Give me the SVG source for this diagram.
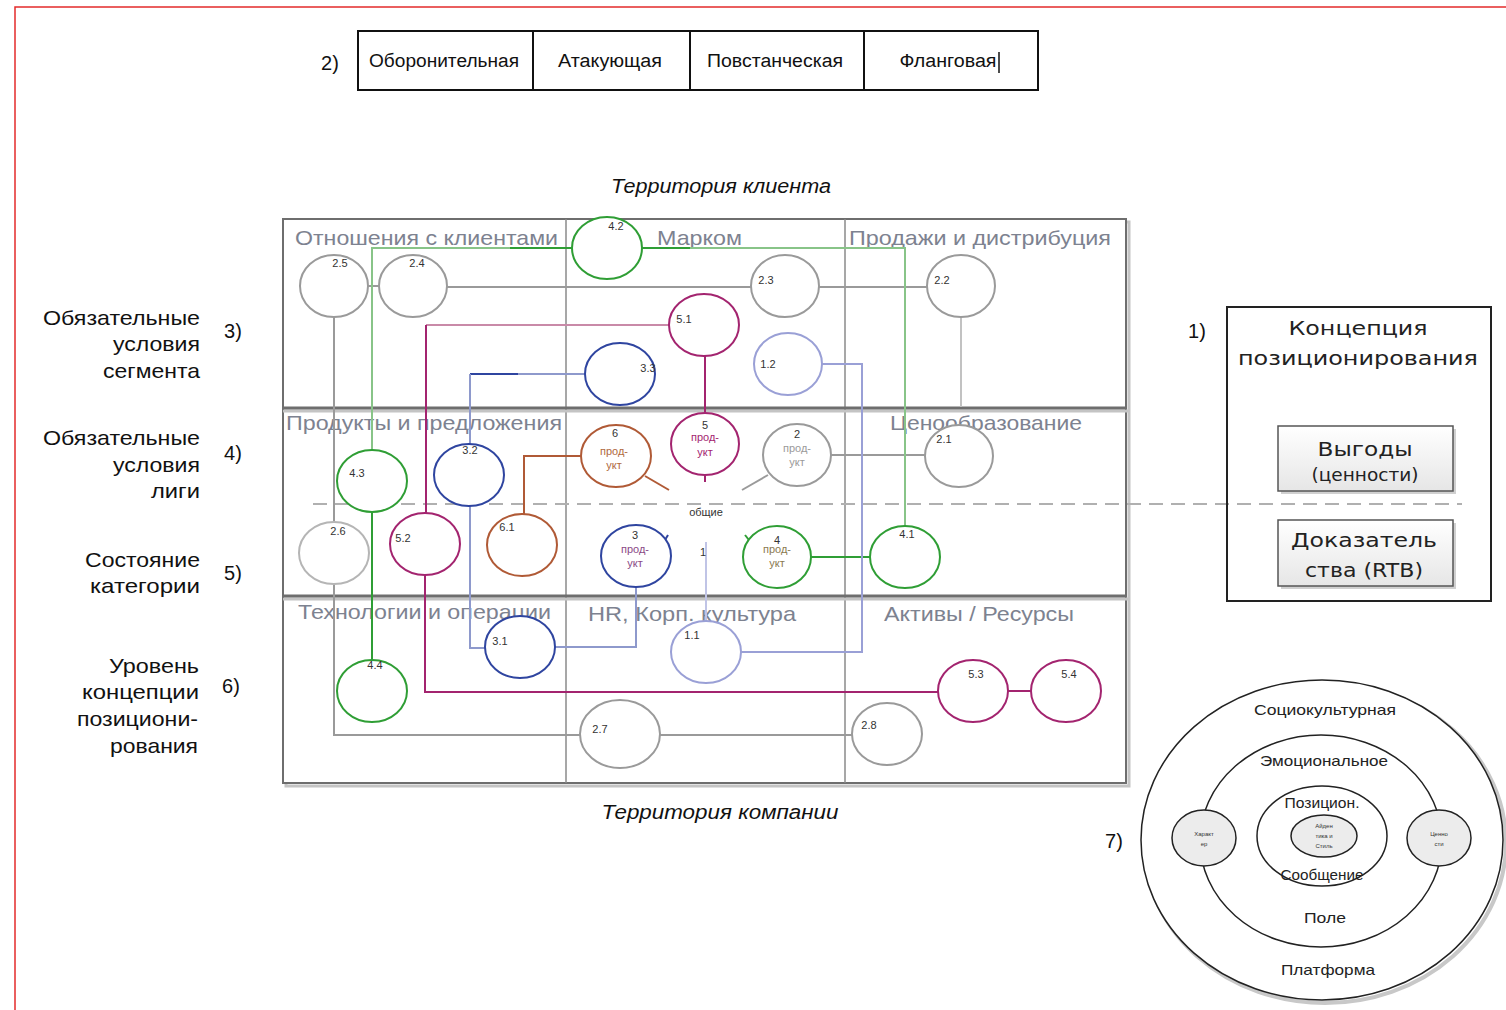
<svg xmlns="http://www.w3.org/2000/svg" width="1506" height="1010" viewBox="0 0 1506 1010">
<defs>
<style>
text{font-family:"Liberation Sans",Arial,sans-serif}
.tt{font-size:18px;fill:#111;text-anchor:middle}
.ter{font-size:20px;font-style:italic;fill:#111;text-anchor:middle}
.cell{font-size:21px;fill:#7d8290}
.lab{font-size:21px;fill:#111;text-anchor:end}
.num{font-size:20px;fill:#111}
.n{font-size:11px;fill:#333;text-anchor:middle}
.pn{font-size:11px;fill:#333;text-anchor:middle}
.pt{font-size:11px;text-anchor:middle}
.cb{font-family:"DejaVu Sans",Verdana,sans-serif;fill:#222;text-anchor:middle}
.ring{font-size:15px;fill:#222;text-anchor:middle}
.tiny{font-size:6px;fill:#333;text-anchor:middle}
.c{fill:#fff;stroke-width:2}
.gray{stroke:#9a9a9a}
.green{stroke:#2f9e35}
.mag{stroke:#a3246f}
.blue{stroke:#2f45a0}
.lblue{stroke:#9aa0d6}
.brown{stroke:#b05a36}
.ln{fill:none;stroke-width:2}
</style>
<linearGradient id="bx" x1="0" y1="0" x2="0" y2="1">
<stop offset="0" stop-color="#ffffff"/>
<stop offset="1" stop-color="#e6e6e6"/>
</linearGradient>
</defs>
<rect x="0" y="0" width="1506" height="1010" fill="#fff"/>
<!-- red frame -->
<path d="M15 1010 V7 H1506" fill="none" stroke="#e32b2b" stroke-width="1.5"/>

<!-- top table -->
<g id="strategy-table">
<text class="num" x="330" y="70" text-anchor="middle">2)</text>
<rect x="358" y="31" width="680" height="59" fill="#fff" stroke="#111" stroke-width="2"/>
<line x1="533" y1="31" x2="533" y2="90" stroke="#111" stroke-width="2"/>
<line x1="690" y1="31" x2="690" y2="90" stroke="#111" stroke-width="2"/>
<line x1="864" y1="31" x2="864" y2="90" stroke="#111" stroke-width="2"/>
<text class="tt" x="444" y="67" textLength="150" lengthAdjust="spacingAndGlyphs">Оборонительная</text>
<text class="tt" x="610" y="67" textLength="104" lengthAdjust="spacingAndGlyphs">Атакующая</text>
<text class="tt" x="775" y="67" textLength="136" lengthAdjust="spacingAndGlyphs">Повстанческая</text>
<text class="tt" x="948" y="67" textLength="97" lengthAdjust="spacingAndGlyphs">Фланговая</text>
<line x1="999" y1="52" x2="999" y2="73" stroke="#111" stroke-width="1.5"/>
</g>

<text class="ter" x="721" y="193" textLength="220" lengthAdjust="spacingAndGlyphs">Территория клиента</text>
<text class="ter" x="720" y="819" textLength="237" lengthAdjust="spacingAndGlyphs">Территория компании</text>

<!-- left labels -->
<g id="left-labels">
<text class="lab" x="200" y="325" textLength="157" lengthAdjust="spacingAndGlyphs">Обязательные</text>
<text class="lab" x="200" y="351" textLength="87" lengthAdjust="spacingAndGlyphs">условия</text>
<text class="lab" x="200" y="378" textLength="97" lengthAdjust="spacingAndGlyphs">сегмента</text>
<text class="num" x="233" y="338" text-anchor="middle">3)</text>
<text class="lab" x="200" y="445" textLength="157" lengthAdjust="spacingAndGlyphs">Обязательные</text>
<text class="lab" x="200" y="472" textLength="87" lengthAdjust="spacingAndGlyphs">условия</text>
<text class="lab" x="200" y="498" textLength="49" lengthAdjust="spacingAndGlyphs">лиги</text>
<text class="num" x="233" y="460" text-anchor="middle">4)</text>
<text class="lab" x="200" y="567" textLength="115" lengthAdjust="spacingAndGlyphs">Состояние</text>
<text class="lab" x="200" y="593" textLength="110" lengthAdjust="spacingAndGlyphs">категории</text>
<text class="num" x="233" y="580" text-anchor="middle">5)</text>
<text class="lab" x="199" y="673" textLength="90" lengthAdjust="spacingAndGlyphs">Уровень</text>
<text class="lab" x="199" y="699" textLength="117" lengthAdjust="spacingAndGlyphs">концепции</text>
<text class="lab" x="198" y="726" textLength="121" lengthAdjust="spacingAndGlyphs">позициони-</text>
<text class="lab" x="198" y="753" textLength="88" lengthAdjust="spacingAndGlyphs">рования</text>
<text class="num" x="231" y="693" text-anchor="middle">6)</text>
</g>

<!-- grid -->
<g id="grid">
<rect x="286" y="222" width="843" height="564" fill="none" stroke="#c4c4c4" stroke-width="3"/>
<rect x="283" y="219" width="843" height="564" fill="#fff" stroke="#6e6e6e" stroke-width="2"/>
<line x1="566" y1="219" x2="566" y2="783" stroke="#8a8a8a" stroke-width="1.5"/>
<line x1="845" y1="219" x2="845" y2="783" stroke="#8a8a8a" stroke-width="1.5"/>
<line x1="283" y1="411" x2="1129" y2="411" stroke="#c4c4c4" stroke-width="3"/>
<line x1="283" y1="408" x2="1126" y2="408" stroke="#6e6e6e" stroke-width="3"/>
<line x1="283" y1="599" x2="1129" y2="599" stroke="#c4c4c4" stroke-width="3"/>
<line x1="283" y1="596" x2="1126" y2="596" stroke="#6e6e6e" stroke-width="3"/>
<text class="cell" x="295" y="245" textLength="263" lengthAdjust="spacingAndGlyphs">Отношения с клиентами</text>
<text class="cell" x="657" y="245" textLength="85" lengthAdjust="spacingAndGlyphs">Марком</text>
<text class="cell" x="849" y="245" textLength="262" lengthAdjust="spacingAndGlyphs">Продажи и дистрибуция</text>
<text class="cell" x="286" y="430" textLength="276" lengthAdjust="spacingAndGlyphs">Продукты и предложения</text>
<text class="cell" x="890" y="430" textLength="192" lengthAdjust="spacingAndGlyphs">Ценообразование</text>
<text class="cell" x="298" y="619" textLength="253" lengthAdjust="spacingAndGlyphs">Технологии и операции</text>
<text class="cell" x="588" y="621" textLength="208" lengthAdjust="spacingAndGlyphs">HR, Корп. культура</text>
<text class="cell" x="884" y="621" textLength="190" lengthAdjust="spacingAndGlyphs">Активы / Ресурсы</text>
</g>

<line x1="313" y1="504" x2="1462" y2="504" stroke="#b0b0b0" stroke-width="2" stroke-dasharray="14 8"/>

<!-- connectors -->
<g id="connectors">
<!-- gray -->
<path class="ln gray" d="M334 317 V522"/>
<path class="ln gray" d="M334 584 V735 H586"/>
<path class="ln gray" d="M368 286 H379"/>
<path class="ln gray" d="M447 287 H751"/>
<path class="ln gray" d="M819 287 H927"/>
<path class="ln" stroke="#c2c2c2" d="M961 317 V407"/>
<path class="ln gray" d="M831 455 H925"/>
<path class="ln gray" d="M768 475 L742 490"/>
<path class="ln gray" d="M654 735 H853"/>
<!-- green -->
<path class="ln" stroke="#88c488" d="M510 248 H372 V450"/>
<path class="ln green" d="M573 248 H510"/>
<path class="ln green" d="M641 248 H690"/>
<path class="ln" stroke="#88c488" d="M690 248 H905 V526"/>
<path class="ln green" d="M372 512 V660"/>
<path class="ln green" d="M811 557 H871"/>
<!-- magenta -->
<path class="ln" stroke="#c98aa8" d="M670 325 H426"/>
<path class="ln mag" d="M426 325 V513"/>
<path class="ln mag" d="M425 575 V692 H939"/>
<path class="ln mag" d="M1007 691 H1032"/>
<path class="ln mag" d="M705 356 V412"/>
<path class="ln mag" d="M705 476 V482"/>
<!-- brown -->
<path class="ln brown" d="M582 456 H524 V514"/>
<path class="ln brown" d="M645 476 L669 490"/>
<!-- blue -->
<path class="ln" stroke="#8e99cc" d="M586 374 H518"/>
<path class="ln blue" d="M518 374 H470"/>
<path class="ln" stroke="#8e99cc" d="M470 374 V444"/>
<path class="ln" stroke="#8e99cc" d="M470 506 V648 H486"/>
<path class="ln" stroke="#8e99cc" d="M555 647 H636 V587"/>
<path class="ln blue" d="M665 540 L668 535"/>
<path class="ln green" d="M745 535 L749 540"/>
<!-- light blue -->
<path class="ln lblue" d="M822 364 H862 V652 H740"/>
<path class="ln" stroke="#c0c4e6" d="M706 542 V621"/>
</g>

<!-- nodes -->
<g id="n2-5"><ellipse class="c gray" cx="334" cy="286" rx="34" ry="31"/><text class="n" x="340" y="267">2.5</text></g>
<g id="n2-4"><ellipse class="c gray" cx="413" cy="286" rx="34" ry="31"/><text class="n" x="417" y="267">2.4</text></g>
<g id="n4-2"><ellipse class="c green" cx="607" cy="248" rx="35" ry="31"/><text class="n" x="616" y="230">4.2</text></g>
<g id="n2-3"><ellipse class="c gray" cx="785" cy="286" rx="34" ry="31"/><text class="n" x="766" y="284">2.3</text></g>
<g id="n2-2"><ellipse class="c gray" cx="961" cy="286" rx="34" ry="31"/><text class="n" x="942" y="284">2.2</text></g>
<g id="n5-1"><ellipse class="c mag" cx="704" cy="325" rx="35" ry="31"/><text class="n" x="684" y="323">5.1</text></g>
<g id="n3-3"><ellipse class="c blue" cx="620" cy="374" rx="35" ry="31"/><text class="n" x="648" y="372">3.3</text></g>
<g id="n1-2"><ellipse class="c lblue" cx="788" cy="364" rx="34" ry="31"/><text class="n" x="768" y="368">1.2</text></g>
<g id="p6"><ellipse class="c brown" cx="616" cy="456" rx="35" ry="31"/><text class="pn" x="615" y="437">6</text><text class="pt" fill="#b06a40" x="614" y="455">прод-</text><text class="pt" fill="#b06a40" x="614" y="469">укт</text></g>
<g id="p5"><ellipse class="c mag" cx="705" cy="444" rx="34" ry="31"/><text class="pn" x="705" y="429">5</text><text class="pt" fill="#a3246f" x="705" y="441">прод-</text><text class="pt" fill="#a3246f" x="705" y="456">укт</text></g>
<g id="p2"><ellipse class="c gray" cx="797" cy="455" rx="34" ry="31"/><text class="pn" x="797" y="438">2</text><text class="pt" fill="#9a9a9a" x="797" y="452">прод-</text><text class="pt" fill="#9a9a9a" x="797" y="466">укт</text></g>
<g id="n2-1"><ellipse class="c gray" cx="959" cy="456" rx="34" ry="31"/><text class="n" x="944" y="443">2.1</text></g>
<g id="n4-3"><ellipse class="c green" cx="372" cy="481" rx="35" ry="31"/><text class="n" x="357" y="477">4.3</text></g>
<g id="n3-2"><ellipse class="c blue" cx="469" cy="475" rx="35" ry="31"/><text class="n" x="470" y="454">3.2</text></g>
<g id="n2-6"><ellipse class="c" stroke="#b5b5b5" cx="334" cy="553" rx="35" ry="31"/><text class="n" x="338" y="535">2.6</text></g>
<g id="n5-2"><ellipse class="c mag" cx="425" cy="544" rx="35" ry="31"/><text class="n" x="403" y="542">5.2</text></g>
<g id="n6-1"><ellipse class="c brown" cx="522" cy="545" rx="35" ry="31"/><text class="n" x="507" y="531">6.1</text></g>
<text class="n" x="706" y="516" font-size="10">общие</text>
<g id="p3"><ellipse class="c blue" cx="636" cy="556" rx="35" ry="31"/><text class="pn" x="635" y="539">3</text><text class="pt" fill="#8a4a86" x="635" y="553">прод-</text><text class="pt" fill="#8a4a86" x="635" y="567">укт</text></g>
<g id="p1"><text class="pn" x="703" y="556" font-size="12">1</text></g>
<g id="p4"><ellipse class="c green" cx="777" cy="557" rx="34" ry="31"/><text class="pn" x="777" y="544">4</text><text class="pt" fill="#8a7a50" x="777" y="553">прод-</text><text class="pt" fill="#8a7a50" x="777" y="567">укт</text></g>
<g id="n4-1"><ellipse class="c green" cx="905" cy="557" rx="35" ry="31"/><text class="n" x="907" y="538">4.1</text></g>
<g id="n3-1"><ellipse class="c blue" cx="520" cy="647" rx="35" ry="31"/><text class="n" x="500" y="645">3.1</text></g>
<g id="n1-1"><ellipse class="c lblue" cx="706" cy="652" rx="35" ry="31"/><text class="n" x="692" y="639">1.1</text></g>
<g id="n4-4"><ellipse class="c green" cx="372" cy="691" rx="35" ry="31"/><text class="n" x="375" y="669">4.4</text></g>
<g id="n2-7"><ellipse class="c gray" cx="620" cy="734" rx="40" ry="34"/><text class="n" x="600" y="733">2.7</text></g>
<g id="n2-8"><ellipse class="c gray" cx="887" cy="734" rx="35" ry="31"/><text class="n" x="869" y="729">2.8</text></g>
<g id="n5-3"><ellipse class="c mag" cx="973" cy="691" rx="35" ry="31"/><text class="n" x="976" y="678">5.3</text></g>
<g id="n5-4"><ellipse class="c mag" cx="1066" cy="691" rx="35" ry="31"/><text class="n" x="1069" y="678">5.4</text></g>

<!-- concept box -->
<g id="concept">
<text class="num" x="1197" y="338" text-anchor="middle">1)</text>
<rect x="1227" y="307" width="264" height="294" fill="none" stroke="#222" stroke-width="2"/>
<text class="cb" x="1358" y="335" font-size="20" textLength="139" lengthAdjust="spacingAndGlyphs">Концепция</text>
<text class="cb" x="1358" y="365" font-size="20" textLength="240" lengthAdjust="spacingAndGlyphs">позиционирования</text>
</g>
<g id="benefits">
<rect x="1281" y="429" width="175" height="65" fill="#d0d0d0"/>
<rect x="1278" y="426" width="175" height="65" fill="url(#bx)" stroke="#555" stroke-width="1.5"/>
<text class="cb" x="1365" y="456" font-size="20" textLength="95" lengthAdjust="spacingAndGlyphs">Выгоды</text>
<text class="cb" x="1365" y="481" font-size="17" textLength="107" lengthAdjust="spacingAndGlyphs">(ценности)</text>
</g>
<g id="rtb">
<rect x="1281" y="523" width="175" height="66" fill="#d0d0d0"/>
<rect x="1278" y="520" width="175" height="66" fill="url(#bx)" stroke="#555" stroke-width="1.5"/>
<text class="cb" x="1364" y="547" font-size="20" textLength="146" lengthAdjust="spacingAndGlyphs">Доказатель</text>
<text class="cb" x="1364" y="577" font-size="20" textLength="118" lengthAdjust="spacingAndGlyphs">ства (RTB)</text>
</g>

<!-- rings -->
<text class="num" x="1114" y="848" text-anchor="middle">7)</text>
<g id="ring-platform">
<ellipse cx="1325" cy="843" rx="181" ry="160" fill="none" stroke="#c8c8c8" stroke-width="4"/>
<ellipse cx="1322" cy="840" rx="181" ry="160" fill="#fff" stroke="#222" stroke-width="1.5"/>
<text class="ring" x="1325" y="715" textLength="142" lengthAdjust="spacingAndGlyphs">Социокультурная</text>
<text class="ring" x="1328" y="975" textLength="94" lengthAdjust="spacingAndGlyphs">Платформа</text>
</g>
<g id="ring-field">
<ellipse cx="1321" cy="841" rx="121" ry="106" fill="none" stroke="#222" stroke-width="1.5"/>
<text class="ring" x="1324" y="766" textLength="128" lengthAdjust="spacingAndGlyphs">Эмоциональное</text>
<text class="ring" x="1325" y="923" textLength="42" lengthAdjust="spacingAndGlyphs">Поле</text>
</g>
<g id="ring-message">
<ellipse cx="1322" cy="836" rx="65" ry="50" fill="none" stroke="#222" stroke-width="1.5"/>
<text class="ring" x="1322" y="808" font-size="13" textLength="75" lengthAdjust="spacingAndGlyphs">Позицион.</text>
<text class="ring" x="1322" y="880" font-size="14" textLength="83" lengthAdjust="spacingAndGlyphs">Сообщение</text>
</g>
<g id="ring-identity">
<ellipse cx="1324" cy="836" rx="33" ry="21" fill="#ececec" stroke="#222" stroke-width="1.5"/>
<text class="tiny" x="1324" y="828">Айден</text>
<text class="tiny" x="1324" y="838">тика и</text>
<text class="tiny" x="1324" y="848">Стиль</text>
</g>
<g id="character">
<ellipse cx="1204" cy="838" rx="32" ry="28" fill="#ececec" stroke="#222" stroke-width="1.5"/>
<text class="tiny" x="1204" y="836">Характ</text>
<text class="tiny" x="1204" y="846">ер</text>
</g>
<g id="values">
<ellipse cx="1439" cy="838" rx="32" ry="28" fill="#ececec" stroke="#222" stroke-width="1.5"/>
<text class="tiny" x="1439" y="836">Ценно</text>
<text class="tiny" x="1439" y="846">сти</text>
</g>
</svg>
